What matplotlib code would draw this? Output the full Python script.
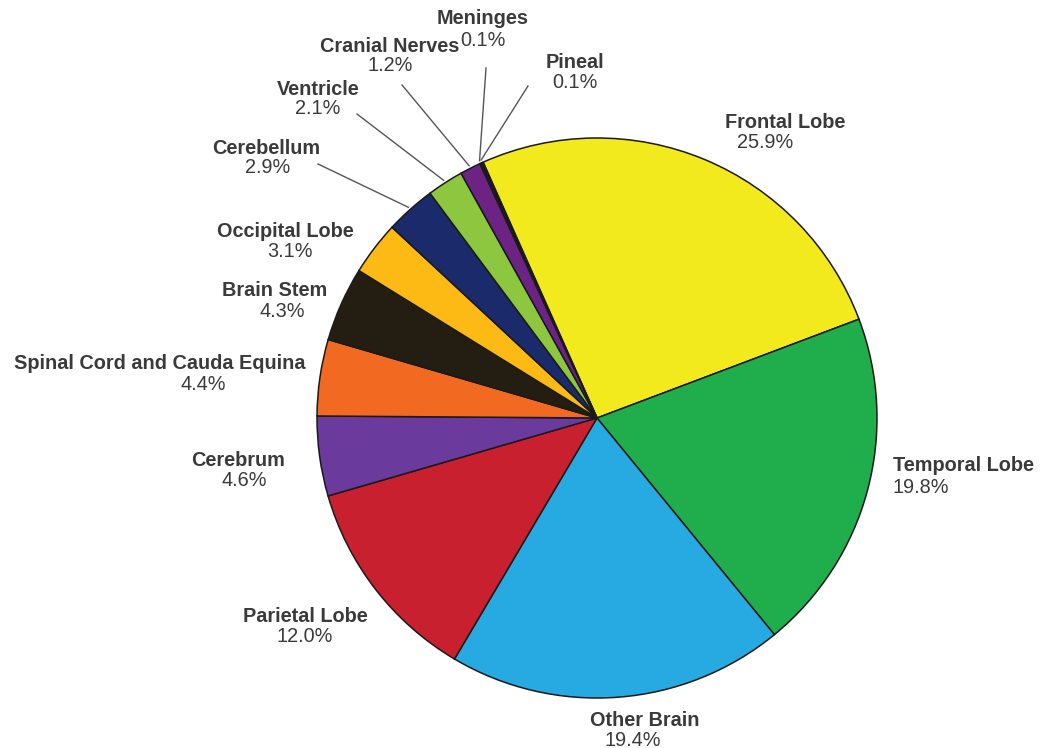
import numpy as np
import matplotlib.pyplot as plt

# Distribution of brain and CNS tumors by site
sites = ["Frontal Lobe", "Temporal Lobe", "Other Brain", "Parietal Lobe", "Cerebrum",
         "Spinal Cord and Cauda Equina", "Brain Stem", "Occipital Lobe", "Cerebellum",
         "Ventricle", "Cranial Nerves", "Meninges", "Pineal"]
pct = [25.9, 19.8, 19.4, 12.0, 4.6, 4.4, 4.3, 3.1, 2.9, 2.1, 1.2, 0.1, 0.1]
colors = ["#f2ea1c", "#1fae4b", "#27a9e1", "#c8202f", "#6a3a9c", "#f26a22", "#241e12",
          "#fdba14", "#1b2a6b", "#8dc63f", "#6d2383", "#3a1a40", "#3a1a40"]

# label layout in pixel coords (name x, name y, pct x, pct y, ha)
label_pos = {
    "Frontal Lobe": (785, 122, 765, 142, "center"),
    "Temporal Lobe": (893, 465, 893, 487, "left"),
    "Other Brain": (645, 721, 633, 740, "center"),
    "Parietal Lobe": (305, 617, 305, 637, "center"),
    "Cerebrum": (238, 460, 244, 480, "center"),
    "Spinal Cord and Cauda Equina": (160, 363, 203, 384, "center"),
    "Brain Stem": (275, 290, 282, 311, "center"),
    "Occipital Lobe": (285, 231, 290, 251, "center"),
    "Cerebellum": (266, 148, 268, 167, "center"),
    "Ventricle": (318, 89, 318, 108, "center"),
    "Cranial Nerves": (390, 46, 390, 65, "center"),
    "Meninges": (483, 18, 483, 40, "center"),
    "Pineal": (575, 62, 575, 82, "center"),
}
# where leader lines leave the labels
leader_start = {
    "Cerebellum": (318, 164),
    "Ventricle": (357, 114),
    "Cranial Nerves": (402, 85),
    "Meninges": (486, 68),
    "Pineal": (528, 86),
}

W, H = 1042, 748
fig = plt.figure(figsize=(W / 100, H / 100), dpi=100)
ax = fig.add_axes([0, 0, 1, 1])

cx, cy, r = 597, H - 418, 280
wedges, _ = ax.pie(pct, colors=colors, startangle=114, counterclock=False,
                   center=(cx, cy), radius=r, frame=True,
                   wedgeprops=dict(edgecolor="#1a1a1a", linewidth=1.1))
ax.set_xlim(0, W)
ax.set_ylim(0, H)
ax.set_aspect("equal")
ax.axis("off")

txt_color = "#3a3a3a"
font = "Liberation Sans"
for name, p, w in zip(sites, pct, wedges):
    nx, ny, px, py, ha = label_pos[name]
    ax.text(nx, H - ny, name, ha=ha, va="center", fontsize=14.3, fontweight="bold",
            color=txt_color, family=font)
    ax.text(px, H - py, f"{p:.1f}%", ha=ha, va="center", fontsize=14.3,
            color=txt_color, family=font)
    if name in leader_start:
        mid = np.deg2rad((w.theta1 + w.theta2) / 2)
        ex, ey = cx + r * 1.01 * np.cos(mid), cy + r * 1.01 * np.sin(mid)
        sx, sy = leader_start[name]
        ax.plot([sx, ex], [H - sy, ey], color="#555555", lw=1.0)

fig.savefig("out.png", dpi=100)
